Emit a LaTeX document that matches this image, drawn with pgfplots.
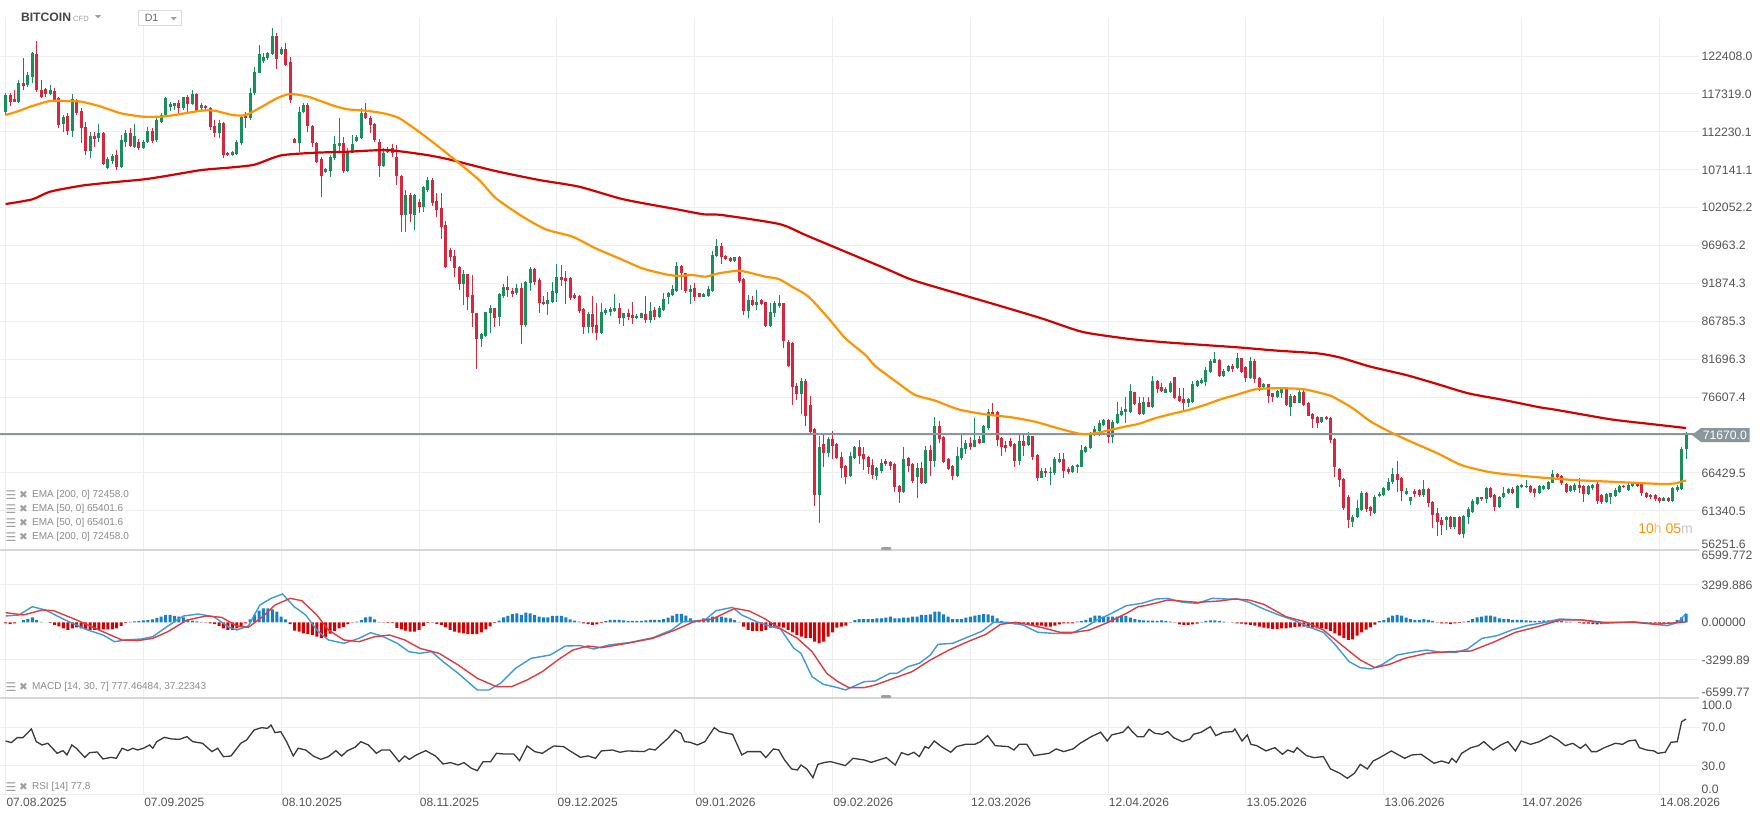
\documentclass[border=0pt]{standalone}
\usepackage{pgfplots}
\pgfplotsset{compat=1.18}
\usepackage{pgfplotstable}
\usepackage{fontspec}
\setmainfont{Liberation Sans}
\newfontfamily\dej{DejaVu Sans}
\definecolor{cgreen}{HTML}{17915C}
\definecolor{cred}{HTML}{D9263C}
\definecolor{emaR}{HTML}{D40000}
\definecolor{emaO}{HTML}{FF9400}
\definecolor{gridc}{HTML}{EEEEEE}
\definecolor{sepc}{HTML}{D6D6D6}
\definecolor{pricec}{HTML}{8A959C}
\definecolor{labc}{HTML}{555555}
\definecolor{legc}{HTML}{8C8C8C}
\definecolor{iconc}{HTML}{A0A0A0}
\definecolor{macdb}{HTML}{3D9BDA}
\definecolor{macdr}{HTML}{E03B40}
\definecolor{histb}{HTML}{1580C8}
\definecolor{histr}{HTML}{D50000}
\definecolor{rsic}{HTML}{3A3A3A}
\definecolor{hcol}{HTML}{F7C48A}
\definecolor{mcol}{HTML}{C8C8C8}
\pgfplotsset{panel/.style={scale only axis, width=849.5pt, xmin=-1.26, xmax=380.9,
  axis line style={draw=none}, tick style={draw=none}, major tick length=0pt,
  xtick={0,31,...,372}, xticklabels={}, yticklabels={},
  tick label style={text opacity=0, opacity=0},
  xmajorgrids=true, ymajorgrids=true, grid style={draw=gridc, line width=0.5pt},
  anchor=north west},
  wick/.style={draw=none, mark=none, forget plot,
    error bars/y dir=plus, error bars/y explicit, error bars/error mark=none,
    error bars/error bar style={draw=#1, solid, line width=0.5pt}},
  body/.style={draw=none, mark=none, forget plot,
    error bars/y dir=plus, error bars/y explicit, error bars/error mark=none,
    error bars/error bar style={draw=#1, solid, line width=1.5pt}}}
\pgfplotstableread[row sep=\\]{
d o h l c\\
0 114944 117406 114497 117183\\
1 117183 117406 115705 116287\\
2 116645 117854 116200 116287\\
3 116287 119197 116150 118839\\
4 118750 122107 117854 118391\\
5 118525 120317 118302 119869\\
6 119645 123003 118750 122779\\
7 122689 124480 117630 117854\\
8 117854 119197 116735 116869\\
9 117944 118078 116959 117317\\
10 117317 118525 117183 117854\\
11 117765 118078 116287 116511\\
12 116735 116959 112706 113153\\
13 113288 114497 112258 114272\\
14 114362 114720 111810 112392\\
15 112392 117272 111586 116600\\
16 116287 116600 114497 114810\\
17 115034 115392 110691 112795\\
18 112929 113601 109124 109706\\
19 109706 112258 108676 111676\\
20 111676 112258 110243 111318\\
21 111362 113288 110915 112034\\
22 112034 112258 107781 107915\\
23 107333 108900 107199 108542\\
24 108363 109258 107915 108990\\
25 109124 109796 107109 107557\\
26 107557 111810 107400 111139\\
27 110915 112482 110243 112034\\
28 112034 112706 110243 110333\\
29 110243 113288 110019 111676\\
30 110915 111228 109796 110019\\
31 110019 111139 109884 110915\\
32 110915 112929 110691 112347\\
33 112347 112706 110691 111049\\
34 111139 114272 110915 113825\\
35 113601 114720 113377 114497\\
36 114497 116869 114272 116735\\
37 115616 116198 115078 115974\\
38 115705 116153 115168 116063\\
39 116063 116511 114720 115392\\
40 115392 116959 115168 116869\\
41 116959 117183 114944 115929\\
42 115929 117854 115840 117272\\
43 117272 117406 114850 114944\\
44 115392 116063 115168 115840\\
45 115705 115840 115168 115392\\
46 115392 115616 112482 112840\\
47 113019 113825 111497 112034\\
48 112034 113825 111362 113377\\
49 113377 113601 108676 109124\\
50 109437 109572 108990 109124\\
51 109124 109706 108990 109572\\
52 109258 111139 109124 110825\\
53 110691 114497 110467 114272\\
54 114631 114944 112706 114048\\
55 114048 118078 113825 117496\\
56 117406 120988 117183 120317\\
57 120182 123898 120093 122644\\
58 121749 122779 121525 122331\\
59 122107 123003 121883 122779\\
60 122689 126137 122555 125107\\
61 125107 125555 120630 121973\\
62 122689 123674 122555 123316\\
63 123316 124211 121077 121212\\
64 121659 122331 116063 116511\\
65 111228 111362 110691 110781\\
66 110781 115616 109572 114944\\
67 114944 116063 114720 115840\\
68 115840 116063 112258 113019\\
69 113019 113153 110243 110691\\
70 110781 110915 108100 108229\\
71 108542 108900 103437 106303\\
72 106886 107333 106751 107199\\
73 107020 109124 106124 108900\\
74 108676 111676 108452 110557\\
75 110333 114048 109572 110781\\
76 110781 111586 106662 107020\\
77 107020 110019 106886 109572\\
78 109437 111810 109348 110557\\
79 111049 111810 110915 111497\\
80 111362 115392 111228 114720\\
81 114720 116153 113915 114048\\
82 114048 114362 112124 113153\\
83 113288 113467 110915 111139\\
84 110915 111228 106214 107691\\
85 107691 110019 107557 109348\\
86 109885 110243 109437 109572\\
87 110019 110601 108900 109348\\
88 108900 110467 105094 106303\\
89 106300 106500 98829 101067\\
90 101067 104425 98829 103753\\
91 103753 103977 100172 101157\\
92 101067 103900 99053 103753\\
93 102858 103171 101381 102186\\
94 102186 104962 101515 104783\\
95 104425 106216 104201 105768\\
96 105768 105992 102276 102724\\
97 102948 103977 100754 101739\\
98 101962 103977 97844 99500\\
99 99724 100306 93900 94038\\
100 96366 96590 94934 95381\\
101 95560 96366 92785 93904\\
102 94038 94217 90994 91796\\
103 91796 93680 88979 93098\\
104 93098 93143 88308 90099\\
105 90322 93009 85980 87860\\
106 87860 87950 80383 84368\\
107 84368 85174 83383 85039\\
108 84816 88084 84637 87994\\
109 87860 88979 85174 88531\\
110 88531 88621 86069 87188\\
111 87412 90546 86203 90457\\
112 90188 91800 89875 91352\\
113 91352 92874 90099 90994\\
114 90860 91218 90099 90457\\
115 90636 91800 90322 91218\\
116 91218 91889 83741 86293\\
117 86293 92247 86069 92113\\
118 91979 94038 90904 93770\\
119 93770 93904 91666 92113\\
120 92337 92561 87950 89203\\
121 89427 90188 88934 89069\\
122 89069 90770 87636 89651\\
123 89427 92113 89293 90860\\
124 90636 94486 89382 92785\\
125 92785 94352 91531 92337\\
126 92561 93590 89114 92247\\
127 92650 92785 89651 89964\\
128 90322 90546 89740 89875\\
129 90188 90322 87950 88218\\
130 88397 88531 85084 86069\\
131 86069 87994 85174 87770\\
132 87770 90188 85174 86069\\
133 86293 89203 84279 85263\\
134 85263 89293 85084 87994\\
135 87950 88531 87636 88308\\
136 88084 88666 87502 88442\\
137 88173 90457 88084 88531\\
138 88531 89203 86427 87188\\
139 87188 87950 86203 87860\\
140 87860 88397 86965 87412\\
141 87636 89337 86427 87278\\
142 87188 87726 87054 87547\\
143 87278 87950 87188 87860\\
144 87726 90188 86606 86965\\
145 86965 89337 86606 88218\\
146 88308 88666 86965 87323\\
147 87412 88845 87188 88621\\
148 88308 90546 88173 89785\\
149 90010 90770 89114 90546\\
150 90322 91666 90188 91084\\
151 90904 94799 90770 94218\\
152 94218 94352 90994 93232\\
153 93232 93322 90546 90904\\
154 90770 91666 89114 91084\\
155 91218 91889 89561 90010\\
156 90546 90636 90010 90099\\
157 90099 90546 90010 90457\\
158 90188 91531 90099 91084\\
159 90904 96277 90770 95695\\
160 95560 97799 95381 96904\\
161 96904 97351 94486 95381\\
162 95560 95695 95023 95157\\
163 95336 95471 94799 94934\\
164 94934 95471 94799 95381\\
165 95381 95560 91889 92247\\
166 92426 92650 87636 88218\\
167 88218 90322 87188 89651\\
168 89651 90188 88845 88979\\
169 88979 90994 88308 89382\\
170 89606 89740 88979 89114\\
171 89337 89427 85980 86203\\
172 86203 89203 86069 87994\\
173 87860 89561 87412 89203\\
174 88845 90322 88531 89293\\
175 89204 89294 83160 84190\\
176 84056 84279 80608 80787\\
177 83921 84056 75549 77922\\
178 78102 78460 76222 76983\\
179 76983 79132 74341 78818\\
180 78818 78997 72729 74073\\
181 75550 76759 71745 71968\\
182 72326 72416 62029 63462\\
183 63462 71386 59747 69864\\
184 70267 71521 67268 69148\\
185 69148 71297 68611 70984\\
186 70984 72103 68253 70043\\
187 70312 70491 68342 68476\\
188 68611 69282 65700 67133\\
189 67357 67492 64940 65835\\
190 66059 69282 65835 68700\\
191 68476 70043 68253 69864\\
192 69864 70849 67626 68745\\
193 68969 69864 66820 68297\\
194 68611 68700 66283 67178\\
195 67492 68253 65566 66148\\
196 66059 67268 65477 67044\\
197 66686 68253 66372 67715\\
198 68029 68253 67357 67626\\
199 67939 68073 66820 67357\\
200 67626 67715 63910 64492\\
201 64671 64805 62433 63910\\
202 63910 69864 63775 68253\\
203 68387 68611 66596 67402\\
204 67626 67715 65029 65388\\
205 65835 67805 63014 67133\\
206 67133 67939 64940 65029\\
207 65029 70043 64940 69506\\
208 69506 70178 66014 68073\\
209 68073 73983 67268 72774\\
210 72774 73446 70402 70984\\
211 71297 71386 67715 67939\\
212 68297 68476 66820 66954\\
213 67357 67492 65477 66059\\
214 66059 69864 65835 68700\\
215 68476 71521 68163 69819\\
216 69595 70849 68969 70491\\
217 70491 71297 69506 69864\\
218 69954 73759 69864 70849\\
219 70939 71386 70312 70491\\
220 70491 72864 70402 72774\\
221 72416 74968 72192 74655\\
222 74655 75863 74073 74207\\
223 74655 74789 70043 70849\\
224 71073 71297 68700 69864\\
225 70178 70760 69282 69819\\
226 70715 71073 69954 70088\\
227 70312 70402 67268 68073\\
228 68073 71655 67492 70715\\
229 70715 71521 68700 70088\\
230 70178 71969 70043 71386\\
231 71386 71400 68163 68611\\
232 68835 68969 65388 65791\\
233 65791 67044 65700 66686\\
234 66686 67044 65925 66372\\
235 66372 67178 64805 66596\\
236 66372 68521 66148 68253\\
237 67939 69058 67715 68297\\
238 68297 69058 65700 66730\\
239 66954 67268 66283 66596\\
240 66596 67447 66462 67357\\
241 67178 67626 66462 67492\\
242 67268 70178 67178 69506\\
243 69282 70043 69148 69864\\
244 69730 71969 69596 71655\\
245 71521 72774 71386 72282\\
246 72103 73536 71386 73178\\
247 72864 73625 72729 73536\\
248 73536 73625 70491 71208\\
249 71208 73536 70491 73222\\
250 73088 75998 72998 74341\\
251 74207 75326 74073 74789\\
252 74565 76669 73177 75013\\
253 74565 78370 74431 77430\\
254 77251 77341 75550 75684\\
255 75863 76669 74207 74297\\
256 74341 76669 74207 75998\\
257 75908 76580 75237 75326\\
258 75326 79445 75102 78818\\
259 78773 78908 77117 77654\\
260 77922 78460 77340 77474\\
261 77206 77922 77116 77654\\
262 77295 78818 77206 78549\\
263 79265 79355 76400 76534\\
264 76758 77788 75997 76131\\
265 76355 77788 74788 75773\\
266 75773 76445 75236 76310\\
267 75997 78817 75863 78370\\
268 78101 78907 78012 78817\\
269 78549 79131 78370 78907\\
270 78683 80698 78101 80250\\
271 80027 81683 79892 81504\\
272 81235 82713 81146 81683\\
273 81593 81683 79355 79489\\
274 79489 80340 79355 80161\\
275 80161 80922 80027 80787\\
276 80787 81056 80027 80385\\
277 80474 82489 80340 81817\\
278 81817 81900 79803 80027\\
279 80698 80787 78683 79131\\
280 79131 82041 78996 81504\\
281 81504 81683 78549 79041\\
282 79131 79265 77474 77922\\
283 77922 78460 77788 78370\\
284 78325 78370 75863 76803\\
285 77116 77206 75997 76579\\
286 76579 77564 76445 77474\\
287 77206 78012 76534 77788\\
288 77653 77788 75415 75549\\
289 75236 77026 74072 76758\\
290 76758 76892 75773 75863\\
291 75863 77653 75773 77340\\
292 77340 77653 75415 75549\\
293 75863 75997 74072 74117\\
294 74341 74430 72415 73624\\
295 73982 74072 72415 73177\\
296 73311 73982 73177 73893\\
297 73982 74072 73534 73624\\
298 73848 73982 70490 70849\\
299 70939 71073 65925 67178\\
300 66910 67044 64582 65477\\
301 65566 65701 61448 61761\\
302 63239 63462 58985 60105\\
303 59880 60776 59209 60552\\
304 60463 62791 60329 61671\\
305 61448 64000 61358 63776\\
306 63776 63910 61224 61537\\
307 61895 61985 60642 61358\\
308 61000 63462 60911 63239\\
309 63328 63910 63149 63597\\
310 63462 64492 63328 64358\\
311 64134 65701 64044 65253\\
312 65253 67044 64940 66238\\
313 66238 68029 63910 65477\\
314 65701 65925 62701 64044\\
315 63597 64358 63462 64044\\
316 62701 63238 62119 63149\\
317 64044 64223 63238 63597\\
318 64134 64223 63238 63462\\
319 63462 65477 63238 64223\\
320 64223 64358 61895 62432\\
321 62567 62701 58985 60776\\
322 61089 61671 57955 59880\\
323 60105 60552 58090 59433\\
324 60105 60642 58762 60463\\
325 60552 60642 58851 59119\\
326 59119 60552 58851 60463\\
327 60463 60642 58090 58224\\
328 58224 60776 57642 60642\\
329 60552 61895 59567 61537\\
330 61224 62880 61089 62701\\
331 62253 63238 62119 63149\\
332 63149 63238 62701 62880\\
333 62880 64582 62432 64447\\
334 64358 64492 63014 63149\\
335 63462 63597 61358 61895\\
336 61806 63328 61671 63238\\
337 63149 64582 63014 63686\\
338 63686 64358 63597 64223\\
339 64223 64492 63597 63776\\
340 61761 64805 61671 64671\\
341 64492 64940 64358 64805\\
342 64492 65477 64358 64671\\
343 64671 64805 63776 63910\\
344 64223 64358 63149 63776\\
345 63776 64805 63597 64671\\
346 64223 64805 64134 64671\\
347 64223 65387 64134 65253\\
348 65119 66820 65029 66283\\
349 66283 66462 65701 65925\\
350 66014 66149 64805 65029\\
351 64940 65029 63686 63910\\
352 64044 64805 63910 64671\\
353 64134 65029 63910 64805\\
354 64805 65701 63776 64358\\
355 64671 64805 62567 63597\\
356 63597 64760 63462 64671\\
357 64358 64940 64134 64805\\
358 64940 65253 62253 62701\\
359 63462 63597 62253 62567\\
360 62567 63776 62432 63597\\
361 63149 63776 62253 63686\\
362 63328 64358 63238 64134\\
363 63910 64805 63776 64671\\
364 64671 64805 64358 64492\\
365 64134 65029 64044 64805\\
366 64671 65119 64582 64940\\
367 64940 65119 64582 64671\\
368 65119 65253 63328 63686\\
369 63776 63910 63014 63149\\
370 63462 63597 62880 63149\\
371 63462 63597 62701 62880\\
372 63014 63149 62432 62701\\
373 62701 63149 62650 63014\\
374 63014 63149 62522 62701\\
375 62701 64582 62567 64358\\
376 64134 64805 63910 64582\\
377 64223 69954 64134 69596\\
378 69596 71969 68253 71670\\
}\candles
\pgfplotstableread[row sep=\\]{
d v\\
0 -100\\ 1 -150\\ 2 -100\\ 3 0\\ 4 200\\ 5 300\\ 6 440\\ 7 200\\ 8 30\\ 9 0\\
10 -60\\ 11 -235\\ 12 -350\\ 13 -530\\ 14 -675\\ 15 -530\\ 16 -440\\ 17 -530\\ 18 -620\\ 19 -675\\
20 -675\\ 21 -675\\ 22 -620\\ 23 -620\\ 24 -620\\ 25 -530\\ 26 -320\\ 27 -60\\ 28 30\\ 29 88\\
30 120\\ 31 180\\ 32 200\\ 33 260\\ 34 380\\ 35 500\\ 36 645\\ 37 645\\ 38 560\\ 39 500\\
40 440\\ 41 200\\ 42 150\\ 43 90\\ 44 30\\ 45 -30\\ 46 -100\\ 47 -150\\ 48 -320\\ 49 -530\\
50 -675\\ 51 -675\\ 52 -530\\ 53 -440\\ 54 -100\\ 55 260\\ 56 645\\ 57 1030\\ 58 1230\\ 59 1230\\
60 1140\\ 61 940\\ 62 500\\ 63 260\\ 64 -150\\ 65 -735\\ 66 -820\\ 67 -970\\ 68 -1030\\ 69 -1110\\
70 -1260\\ 71 -1400\\ 72 -1300\\ 73 -1000\\ 74 -760\\ 75 -530\\ 76 -400\\ 77 -150\\ 78 -30\\ 79 60\\
80 200\\ 81 440\\ 82 500\\ 83 260\\ 84 30\\ 85 -30\\ 86 -60\\ 87 -60\\ 88 -500\\ 89 -620\\
90 -735\\ 91 -820\\ 92 -820\\ 93 -675\\ 94 -320\\ 95 -60\\ 96 -30\\ 97 -150\\ 98 -235\\ 99 -440\\
100 -675\\ 101 -820\\ 102 -910\\ 103 -970\\ 104 -1030\\ 105 -1030\\ 106 -1030\\ 107 -880\\ 108 -620\\ 109 -350\\
110 -60\\ 111 150\\ 112 440\\ 113 560\\ 114 730\\ 115 790\\ 116 645\\ 117 850\\ 118 790\\ 119 645\\
120 500\\ 121 440\\ 122 440\\ 123 560\\ 124 560\\ 125 560\\ 126 440\\ 127 260\\ 128 150\\ 129 60\\
130 -90\\ 131 -150\\ 132 -235\\ 133 -176\\ 134 -50\\ 135 100\\ 136 205\\ 137 205\\ 138 205\\ 139 176\\
140 117\\ 141 117\\ 142 117\\ 143 117\\ 144 176\\ 145 205\\ 146 205\\ 147 205\\ 148 290\\ 149 410\\
150 585\\ 151 733\\ 152 733\\ 153 585\\ 154 350\\ 155 120\\ 156 176\\ 157 350\\ 158 350\\ 159 500\\
160 500\\ 161 500\\ 162 410\\ 163 350\\ 164 200\\ 165 30\\ 166 -380\\ 167 -675\\ 168 -760\\ 169 -760\\
170 -760\\ 171 -675\\ 172 -470\\ 173 -380\\ 174 -380\\ 175 -470\\ 176 -675\\ 177 -880\\ 178 -1110\\ 179 -1260\\
180 -1400\\ 181 -1400\\ 182 -1700\\ 183 -1850\\ 184 -1700\\ 185 -1260\\ 186 -880\\ 187 -470\\ 188 -380\\ 189 -290\\
190 -30\\ 191 200\\ 192 290\\ 193 290\\ 194 290\\ 195 290\\ 196 350\\ 197 350\\ 198 410\\ 199 500\\
200 350\\ 201 350\\ 202 410\\ 203 410\\ 204 500\\ 205 500\\ 206 645\\ 207 645\\ 208 700\\ 209 940\\
210 940\\ 211 700\\ 212 500\\ 213 290\\ 214 290\\ 215 290\\ 216 410\\ 217 500\\ 218 585\\ 219 645\\
220 730\\ 221 700\\ 222 585\\ 223 350\\ 224 120\\ 225 -50\\ 226 -90\\ 227 -176\\ 228 -176\\ 229 -90\\
230 -176\\ 231 -235\\ 232 -290\\ 233 -290\\ 234 -380\\ 235 -380\\ 236 -290\\ 237 -176\\ 238 -90\\ 239 -90\\
240 -90\\ 241 60\\ 242 120\\ 243 205\\ 244 410\\ 245 585\\ 246 585\\ 247 500\\ 248 500\\ 249 500\\
250 500\\ 251 560\\ 252 560\\ 253 410\\ 254 290\\ 255 205\\ 256 170\\ 257 150\\ 258 150\\ 259 120\\
260 176\\ 261 117\\ 262 60\\ 263 -30\\ 264 -176\\ 265 -235\\ 266 -235\\ 267 -176\\ 268 -117\\ 269 30\\
270 117\\ 271 176\\ 272 176\\ 273 117\\ 274 60\\ 275 0\\ 276 -30\\ 277 -90\\ 278 -117\\ 279 -176\\
280 -235\\ 281 -290\\ 282 -380\\ 283 -470\\ 284 -530\\ 285 -585\\ 286 -585\\ 287 -530\\ 288 -530\\ 289 -470\\
290 -410\\ 291 -380\\ 292 -380\\ 293 -470\\ 294 -470\\ 295 -530\\ 296 -530\\ 297 -585\\ 298 -760\\ 299 -970\\
300 -1170\\ 301 -1400\\ 302 -1550\\ 303 -1500\\ 304 -1170\\ 305 -880\\ 306 -645\\ 307 -440\\ 308 -200\\ 309 100\\
310 200\\ 311 410\\ 312 585\\ 313 645\\ 314 585\\ 315 410\\ 316 290\\ 317 205\\ 318 205\\ 319 290\\
320 205\\ 321 120\\ 322 -30\\ 323 -90\\ 324 -90\\ 325 -150\\ 326 -90\\ 327 -60\\ 328 60\\ 329 120\\
330 290\\ 331 440\\ 332 500\\ 333 585\\ 334 585\\ 335 500\\ 336 350\\ 337 290\\ 338 290\\ 339 205\\
340 205\\ 341 205\\ 342 176\\ 343 150\\ 344 120\\ 345 120\\ 346 176\\ 347 176\\ 348 205\\ 349 176\\
350 120\\ 351 60\\ 352 30\\ 353 0\\ 354 -60\\ 355 -117\\ 356 -117\\ 357 -150\\ 358 -176\\ 359 -150\\
360 -117\\ 361 -60\\ 362 -30\\ 363 30\\ 364 30\\ 365 30\\ 366 30\\ 367 0\\ 368 -60\\ 369 -90\\
370 -117\\ 371 -117\\ 372 -117\\ 373 -117\\ 374 -90\\ 375 0\\ 376 205\\ 377 440\\ 378 740\\
}\hist
\begin{document}
\begin{tikzpicture}
\path[use as bounding box] (0pt,0pt) rectangle (880.5pt,-410pt);
\fill[white] (0pt,0pt) rectangle (880.5pt,-410pt);
% ---------------- main panel
\begin{axis}[panel, at={(0pt,0pt)}, height=275pt, ymin=56076, ymax=129942,
  ytick={61340.5,66429.5,71518.4,76607.4,81696.3,86785.3,91874.3,96963.2,102052.2,107141.1,112230.1,117319.0,122408.0}]
\addplot[wick=cgreen, x filter/.expression={\thisrow{c}<\thisrow{o} ? nan : x}]
  table[x=d, y=l, y error expr=\thisrow{h}-\thisrow{l}] {\candles};
\addplot[wick=cred, x filter/.expression={\thisrow{c}<\thisrow{o} ? x : nan}]
  table[x=d, y=l, y error expr=\thisrow{h}-\thisrow{l}] {\candles};
\addplot[body=cgreen, x filter/.expression={\thisrow{c}<\thisrow{o} ? nan : x}]
  table[x=d, y=o, y error expr=\thisrow{c}-\thisrow{o}] {\candles};
\addplot[body=cred, x filter/.expression={\thisrow{c}<\thisrow{o} ? x : nan}]
  table[x=d, y=c, y error expr=\thisrow{o}-\thisrow{c}] {\candles};
\addplot[pricec, line width=0.8pt] coordinates {(-1.26,71670) (380.9,71670)};
\addplot[emaR, line width=1.1pt, smooth, tension=0.4] coordinates {
(0,102540) (6,103170) (10,104200) (17,105000) (23,105400) (31,105850) (36,106300) (44,107100)
(51,107470) (56,107830) (62,109080) (70,109440) (77,109570) (85,109800) (89,109600) (95,109100)
(100,108500) (110,107000) (120,105770) (129,104870) (139,103170) (151,101830) (157,101160) (161,101070)
(174,99860) (180,98360) (190,95860) (198,93860) (204,92340) (214,90550) (223,88980) (233,87190)
(242,85400) (250,84640) (255,84280) (262,83920) (277,83300) (286,82850) (295,82490) (300,81950)
(307,80700) (315,79580) (322,78370) (329,77120) (337,76220) (345,75250) (349,74880) (361,73630)
(370,73000) (378,72458)};
\addplot[emaO, line width=1.1pt, smooth, tension=0.4] coordinates {
(0,114497) (2.5,114944) (6,115705) (10,116377) (14,116377) (17,116287) (21,115705) (26,114720)
(31,114272) (35,114272) (38,114497) (44,115078) (47,115078) (51,114497) (54,114497) (57,115392)
(61,116735) (64,117317) (68,116959) (74,115705) (77,115258) (81,115078) (85,114720) (88.6,114048)
(94,111800) (100,109000) (106.5,105768) (110.3,103306) (116.3,100843) (121.5,99142) (127.5,98157)
(132.7,96590) (138,95247) (143.2,93904) (148.5,93098) (151.4,92874) (154.4,93009) (157.4,92785)
(160.4,93232) (164.9,93590) (167.9,93232) (170.9,92785) (173.9,92471) (177,91400) (180.6,90100)
(185.1,87189) (188.9,84503) (193.4,82265) (195.6,80787) (200.8,78460) (204.6,76893) (209.1,76131)
(214.3,74967) (220.3,74296) (226.3,73893) (231.5,73311) (236.8,72415) (242,71654) (245.7,71833)
(251.7,72640) (254.75,72998) (258.5,73759) (262.2,74341) (266,74878) (269.7,75550) (273.5,76355)
(277.2,76982) (281,77654) (284.7,77788) (288.4,77788) (292.2,77654) (296.7,77027) (298.2,76758)
(302.7,75236) (307.1,73311) (311.6,71878) (316.1,70625) (322.1,69058) (327.4,67491) (333.3,66595)
(337.1,66281) (344.6,65850) (352.7,65477) (360.9,65253) (369,65029) (373.1,64940) (375.6,65029)
(377.2,65300) (378,65401.6)};
\end{axis}
% ---------------- MACD panel
\begin{axis}[panel, at={(0pt,-275pt)}, height=74pt, ymin=-6662, ymax=6362,
  ytick={-3299.886,3299.886}]
\addplot[ybar, bar width=1.5pt, fill=histb, draw=none,
  y filter/.expression={y<0 ? nan : y}] table[x=d, y=v] {\hist};
\addplot[ybar, bar width=1.5pt, fill=histr, draw=none,
  y filter/.expression={y<0 ? y : nan}] table[x=d, y=v] {\hist};
\addplot[macdb, line width=0.7pt] coordinates {
(0,555) (3,643) (6,1376) (9,1083) (11.6,555) (14.2,56) (18.5,-677) (21.9,-1117) (24.5,-1704)
(27.1,-1557) (30.5,-1469) (33.1,-1264) (36.5,-325) (40,555) (43.4,731) (46.8,496) (50.3,-443)
(52,-677) (54.6,-325) (57.2,1522) (59.7,2109) (62.3,2490) (64.9,1376) (67.5,643) (70,-677)
(72.6,-1557) (76.1,-1850) (79.5,-1410) (82.1,-912) (84.6,-1205) (88.1,-1850) (90.7,-2583)
(93.2,-2730) (95.8,-2583) (98.4,-3463) (101.8,-4490) (106.1,-5957) (108.7,-5957) (111.3,-5370)
(114.7,-4050) (118.2,-3170) (122.5,-2877) (125.9,-2085) (129.3,-2050) (132.3,-2349) (135.7,-1997)
(140.6,-1762) (145.6,-1352) (149.8,-677) (152.3,56) (154.8,115) (157.3,203) (159.8,1024) (163.5,1317)
(165.6,643) (168.9,56) (172.3,-384) (174.3,-589) (177.3,-2290) (178.9,-2730) (181.4,-4783)
(183.9,-5458) (187.2,-5751) (188.9,-5957) (193.1,-5223) (195.6,-5165) (198.9,-4490) (200.5,-4490)
(203,-3903) (205.5,-3610) (208,-2877) (209.7,-1938) (213,-1850) (217.2,-1176) (219.7,-765)
(222.2,-2) (225.5,-2) (228.8,-237) (232.2,-882) (235.5,-970) (239.7,-970) (243,-384) (245.5,203)
(248,643) (252.1,1464) (255.5,1669) (258.8,2050) (261.4,2109) (264.7,1757) (268.1,1669) (271.4,2109)
(274.7,2050) (277.2,2050) (279.7,1757) (283,1171) (286.4,643) (289.7,203) (293,-384) (296.4,-882)
(298.8,-1850) (302.2,-3463) (304.7,-3991) (307.2,-4108) (309.7,-3698) (313,-2877) (316.3,-2642)
(319.6,-2437) (323,-2642) (326.3,-2642) (328.8,-2349) (332.1,-1411) (335.5,-1176) (338.8,-677)
(342.1,-296) (346.3,-2) (349.6,291) (354.6,203) (359.6,-90) (366.2,56) (369.6,-90) (373.7,-296)
(376.2,-2) (378,777)};
\addplot[macdr, line width=0.7pt] coordinates {
(0,848) (4,643) (8.2,1083) (10.8,1024) (16,203) (21,-677) (26.2,-1557) (29.7,-1616) (33.1,-1410)
(36.5,-824) (40.8,203) (45.1,555) (48.6,438) (52,-325) (54.6,-443) (58,555) (60.6,1522) (64,2109)
(66.6,1903) (70,643) (72.6,-677) (76.1,-1557) (79.5,-1704) (83,-1264) (86.4,-1117) (89.8,-1557)
(93.2,-2290) (97.5,-2730) (101.8,-3757) (106.1,-4930) (110.4,-5663) (113.8,-5663) (117.3,-5077)
(120.7,-4343) (124.2,-3317) (127.6,-2437) (131,-2085) (134,-2232) (139.8,-1850) (145.6,-1411)
(150.6,-677) (154.8,56) (159,291) (164,1229) (167.3,994) (170.6,349) (173.9,-472) (178.1,-1411)
(181.4,-2584) (184.7,-4490) (187.2,-5223) (189.7,-5751) (193.1,-5751) (195.6,-5517) (199.7,-4930)
(203.9,-4343) (208,-3317) (212.2,-2437) (216.4,-1704) (220.5,-1058) (223.8,-178) (227.2,-2)
(230.5,-237) (233.8,-530) (237.2,-882) (240.5,-882) (243.8,-677) (248,-2) (252.1,789) (254.75,1376)
(256.3,1464) (259.4,1757) (261.4,1962) (268.1,1757) (273,1874) (276.4,2050) (279.7,1962) (283,1581)
(288,496) (292.2,56) (296.4,-677) (300.5,-1997) (304.7,-3317) (308,-3991) (311.3,-3698) (314.7,-3170)
(319.6,-2730) (324.6,-2584) (329.6,-2525) (334.6,-1762) (339.6,-882) (344.6,-384) (349.6,203)
(354.6,203) (359.6,-2) (366.2,-2) (371.2,-178) (378,37)};
\end{axis}
% ---------------- RSI panel
\begin{axis}[panel, at={(0pt,-349pt)}, height=48.5pt, ymin=-0.84, ymax=100.47,
  ytick={0,30,70}]
\addplot[rsic, line width=0.65pt] coordinates {
(0,55.6) (1.3,53.9) (2.6,59.1) (3.9,59.1) (5.8,68.1) (6.9,54.9) (8.2,51.4) (9.5,53.2) (11.6,42.7)
(12.9,45.5) (13.8,41) (14.9,51.4) (15.9,48) (17.8,38.5) (18.9,43.4) (20.6,44.1) (21.9,36.8) (23.7,38.5)
(24.9,37.5) (26.2,48) (27.5,45.5) (28.6,48) (29.7,46.2) (31,48) (32.4,51.4) (33.1,48) (34,54.9)
(35.7,59.4) (37.4,57.7) (39.1,57.3) (40.8,60.1) (42.1,54.9) (44.3,53.2) (46.4,44.5) (47.7,48)
(49,39.2) (50.7,39.9) (52.9,53.2) (54.2,56.6) (55.9,67.1) (57.6,69.5) (58.9,68.8) (59.7,72.3)
(60.6,64.3) (61.9,65.3) (63.2,54.9) (64.7,39.9) (65.8,48) (67.5,46.2) (69.2,39.9) (70.9,36.4)
(72.6,39.2) (74.3,45.5) (75.6,39.9) (76.9,45.5) (78.6,49) (79.9,54.9) (81.6,51.4) (83.4,42.7)
(84.6,46.2) (86.4,46.2) (88.5,34) (89.8,39.9) (90.8,36.4) (92.4,41) (94.5,45.5) (96.7,39.9)
(98.4,31.6) (100.1,33) (101.8,30.5) (103.1,33) (104.8,27) (106.1,24.6) (107.4,34) (109.1,34)
(110.4,42.7) (112.1,42) (114.3,42) (115.6,35) (117.3,50.4) (119,44.5) (120.7,42.7) (123.3,50.4)
(125.5,49.7) (127.2,44.5) (129.3,38.5) (131,40) (132.7,37.5) (134,45.2) (136.5,46.2) (138.2,43.8)
(139.8,45.2) (143.6,44.5) (144.8,47.3) (146.1,46.2) (149,58.4) (150.6,67.1) (151.9,63.6) (152.7,54.9)
(154,54.2) (155.6,51.4) (157.3,54.9) (159.4,69.5) (160.6,65.4) (162.3,63.6) (163.5,62.6) (165.6,41)
(166.9,44.5) (169.8,44.5) (171,38.2) (172.7,47.3) (173.9,46.2) (175.2,35.8) (176.8,26.4) (178.1,25.3)
(178.9,30.5) (180.2,26.4) (181.6,17.3) (182.7,31.2) (184.3,33.3) (185.6,34) (188.9,29.9) (190.6,37.5)
(193.1,35.8) (194.7,33.3) (198.1,38.2) (200.1,30.5) (201.5,43.4) (203,41) (204.3,43.8) (205.5,39.3)
(206.8,49.7) (207.6,48) (208.9,55.6) (210.5,49.7) (212.6,43.8) (213.9,49.7) (215.9,52.1) (218,52.1)
(219.3,54.9) (220.9,61.2) (222.6,50.7) (225.5,49.7) (226.8,46.2) (228,52.1) (229.7,52.1) (231.3,40.3)
(234.7,42.7) (236.3,47.3) (238,44.5) (240.1,47.3) (241.7,53.2) (244.2,60.1) (246.3,64.7) (247.8,55.6)
(248.8,61.9) (251.3,64.7) (252.5,70.6) (253.4,65.4) (254.6,60.1) (256,60.1) (257.2,67.8) (258.5,63.6)
(260.2,62.6) (261.4,65.4) (262.7,59.1) (264.7,54.9) (266.4,57.7) (267.2,62.6) (268.9,64.7) (271,70.6)
(272.2,61.2) (273.9,64.7) (276,65.4) (276.5,68.2) (278.1,55.6) (279.3,61.9) (280.1,52.1) (281.4,50.7)
(283.5,45.2) (285.5,48.6) (287.2,41.7) (288.4,46.2) (289.7,43.8) (290.5,48.6) (292.6,40.3) (294.3,38.2)
(296.4,39.3) (298,26.4) (300.1,21.9) (301.8,16.6) (303.4,21.9) (304.7,31.2) (306.3,26.4) (307.6,34.7)
(308.8,37.5) (311.7,45.2) (314.7,37.5) (316.3,41) (318.4,41.7) (321.3,32.3) (323,34.7) (324.6,32.3)
(325.3,37.5) (326.3,33.3) (327.5,42.7) (329.6,48.6) (331.3,50.7) (332.5,54.9) (334.6,46.2) (336.3,51.4)
(337.9,54.9) (339.6,45.2) (340.9,55.6) (343,52.1) (345,54.9) (347.5,61.2) (349.2,56.6) (350.8,50.7)
(352.5,53.2) (354.2,47.9) (355.4,52.1) (356.7,44.5) (357.9,44.5) (359.6,48.6) (362.1,53.2) (363.7,52.1)
(365,55.6) (366.6,56.6) (367.5,48.6) (369.1,46.2) (370.8,45.2) (371.6,42.7) (373.3,43.8) (374.6,54.2)
(376,54.9) (377,75.8) (378,78.5)};
\end{axis}
% ---------------- top strip (grid starts below header row)
\fill[white] (0pt,0pt) rectangle (849.5pt,-8.7pt);
% ---------------- separators and grips
\draw[sepc, line width=0.9pt] (0pt,-275pt) -- (849.5pt,-275pt);
\draw[sepc, line width=0.9pt] (0pt,-349pt) -- (849.5pt,-349pt);
\fill[iconc, rounded corners=0.4pt] (440.5pt,-273.6pt) rectangle (445.5pt,-275pt);
\fill[iconc, rounded corners=0.4pt] (440.5pt,-347.6pt) rectangle (445.5pt,-349pt);
% ---------------- header
\node[anchor=base west, inner sep=0pt, font=\bfseries\fontsize{6.1}{7}\selectfont, text=black!72] at (10.3pt,-10.8pt) {BITCOIN};
\node[anchor=base west, inner sep=0pt, font=\fontsize{3.8}{4}\selectfont, text=iconc] at (36.4pt,-10.8pt) {CFD};
\fill[iconc] (47.4pt,-7.5pt) -- (50.6pt,-7.5pt) -- (49pt,-9.2pt) -- cycle;
\filldraw[draw=black!14, fill=white, line width=0.5pt] (69.2pt,-5.1pt) rectangle (90.8pt,-12.8pt);
\node[anchor=west, inner sep=0pt, font=\fontsize{5.3}{6}\selectfont, text=black!60] at (72.2pt,-9pt) {D1};
\fill[iconc] (85.3pt,-8.5pt) -- (88.4pt,-8.5pt) -- (86.85pt,-10.2pt) -- cycle;
% ---------------- legends
\foreach \yy/\tt in {247.5/{EMA [200, 0] 72458.0}, 254.5/{EMA [50, 0] 65401.6}, 261.35/{EMA [50, 0] 65401.6}, 268.35/{EMA [200, 0] 72458.0}, 343.35/{MACD [14, 30, 7] 777.46484, 37.22343}, 393.35/{RSI [14] 77.8}} {
  \node[anchor=west, inner sep=0pt, font=\dej\fontsize{6}{7}\selectfont, text=iconc] at (2.6pt,-\yy pt) {☰};
  \node[anchor=west, inner sep=0pt, font=\dej\fontsize{5.2}{6}\selectfont, text=iconc] at (9.3pt,-\yy pt) {✖};
  \node[anchor=west, inner sep=0pt, font=\fontsize{5}{6}\selectfont, text=legc] at (15.85pt,-\yy pt) {\tt};
}
% ---------------- right price labels
\foreach \yy/\tt in {28.05/122408.0, 47.0/117319.0, 65.95/112230.1, 84.9/107141.1, 103.85/102052.2,
  122.75/96963.2, 141.7/91874.3, 160.65/86785.3, 179.6/81696.3, 198.55/76607.4, 236.45/66429.5,
  255.4/61340.5, 272.3/56251.6, 277.5/6599.772, 292.85/3299.886, 311.15/0.00000, 330.0/-3299.89,
  346.35/-6599.77, 352.5/100.0, 363.75/70.0, 382.9/30.0, 394.5/0.0} {
  \node[anchor=west, inner sep=0pt, font=\fontsize{6.1}{7}\selectfont, text=labc] at (850.6pt,-\yy pt) {\tt};
}
% ---------------- current price box
\fill[pricec] (846pt,-217.5pt) -- (850.5pt,-214pt) -- (874.8pt,-214pt) -- (874.8pt,-221pt) -- (850.5pt,-221pt) -- cycle;
\node[anchor=west, inner sep=0pt, font=\fontsize{6.1}{7}\selectfont, text=white] at (851.2pt,-217.5pt) {71670.0};
% ---------------- countdown
\node[anchor=west, inner sep=0pt, font=\fontsize{7}{8}\selectfont] at (819pt,-264.3pt)
  {\textcolor{emaO}{10}\textcolor{hcol}{h} \textcolor{emaO}{05}\textcolor{mcol}{m}};
% ---------------- date labels
\foreach \k/\tt in {0/07.08.2025, 1/07.09.2025, 2/08.10.2025, 3/08.11.2025, 4/09.12.2025, 5/09.01.2026,
  6/09.02.2026, 7/12.03.2026, 8/12.04.2026, 9/13.05.2026, 10/13.06.2026, 11/14.07.2026, 12/14.08.2026} {
  \node[anchor=west, inner sep=0pt, font=\fontsize{6}{7}\selectfont, text=labc] at ({3.05pt+\k*68.9pt},-401pt) {\tt};
}
\end{tikzpicture}
\end{document}
